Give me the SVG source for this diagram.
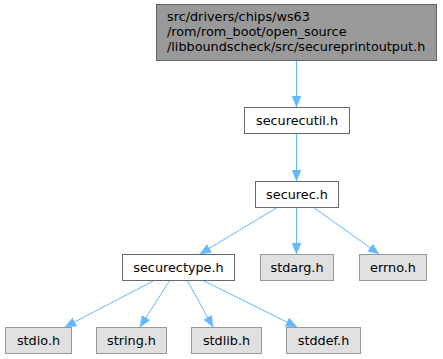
<svg xmlns="http://www.w3.org/2000/svg" width="443" height="359" viewBox="0 0 443 359">
<style>
.bg{fill:#ffffff}
.root rect{fill:#999999;stroke:#666666;stroke-width:1}
.inc rect{fill:#ffffff;stroke:#666666;stroke-width:1}
.sys rect{fill:#e0e0e0;stroke:#999999;stroke-width:1}
text{font-family:"DejaVu Sans",sans-serif;font-size:12.8px;fill:#000000}
.c{text-anchor:middle}
#edges line{stroke:#63b8ff;stroke-width:1;marker-end:url(#ah)}
</style>
<defs>
<marker id="ah" markerUnits="userSpaceOnUse" markerWidth="12" markerHeight="10" refX="11" refY="5" orient="auto">
<path d="M0,0.5 L11,5 L0,9.5 z" fill="#63b8ff" stroke="#63b8ff" stroke-width="0.5"/>
</marker>
</defs>
<rect class="bg" x="0" y="0" width="443" height="359"/>
<g id="edges">
<line x1="296.5" y1="60" x2="296.5" y2="107"/>
<line x1="296.5" y1="133" x2="296.5" y2="181"/>
<line x1="278" y1="207" x2="200" y2="254"/>
<line x1="296.5" y1="207" x2="296.5" y2="254"/>
<line x1="313" y1="207" x2="379" y2="254"/>
<line x1="155" y1="280" x2="65" y2="327"/>
<line x1="170" y1="280" x2="140" y2="327"/>
<line x1="187" y1="280" x2="213" y2="327"/>
<line x1="202" y1="280" x2="297" y2="327"/>
</g>
<g id="node_root" class="root">
<rect x="156.5" y="4.5" width="280" height="56"/>
<text x="167" y="21">src/drivers/chips/ws63</text>
<text x="167" y="36">/rom/rom_boot/open_source</text>
<text x="167" y="51">/libboundscheck/src/secureprintoutput.h</text>
</g>
<g id="node_securecutil" class="inc">
<rect x="244.5" y="107.5" width="105" height="26"/>
<text class="c" x="297" y="125">securecutil.h</text>
</g>
<g id="node_securec" class="inc">
<rect x="255.5" y="181.5" width="83" height="26"/>
<text class="c" x="297" y="199">securec.h</text>
</g>
<g id="node_securectype" class="inc">
<rect x="122.5" y="254.5" width="112" height="26"/>
<text class="c" x="178.5" y="272">securectype.h</text>
</g>
<g id="node_stdarg" class="sys">
<rect x="260.5" y="254.5" width="73" height="26"/>
<text class="c" x="297" y="272">stdarg.h</text>
</g>
<g id="node_errno" class="sys">
<rect x="359.5" y="254.5" width="67" height="26"/>
<text class="c" x="393" y="272">errno.h</text>
</g>
<g id="node_stdio" class="sys">
<rect x="5.5" y="327.5" width="66" height="26"/>
<text class="c" x="38.5" y="345">stdio.h</text>
</g>
<g id="node_string" class="sys">
<rect x="96.5" y="327.5" width="70" height="26"/>
<text class="c" x="131.5" y="345">string.h</text>
</g>
<g id="node_stdlib" class="sys">
<rect x="191.5" y="327.5" width="70" height="26"/>
<text class="c" x="226.5" y="345">stdlib.h</text>
</g>
<g id="node_stddef" class="sys">
<rect x="286.5" y="327.5" width="74" height="26"/>
<text class="c" x="323.5" y="345">stddef.h</text>
</g>
</svg>
